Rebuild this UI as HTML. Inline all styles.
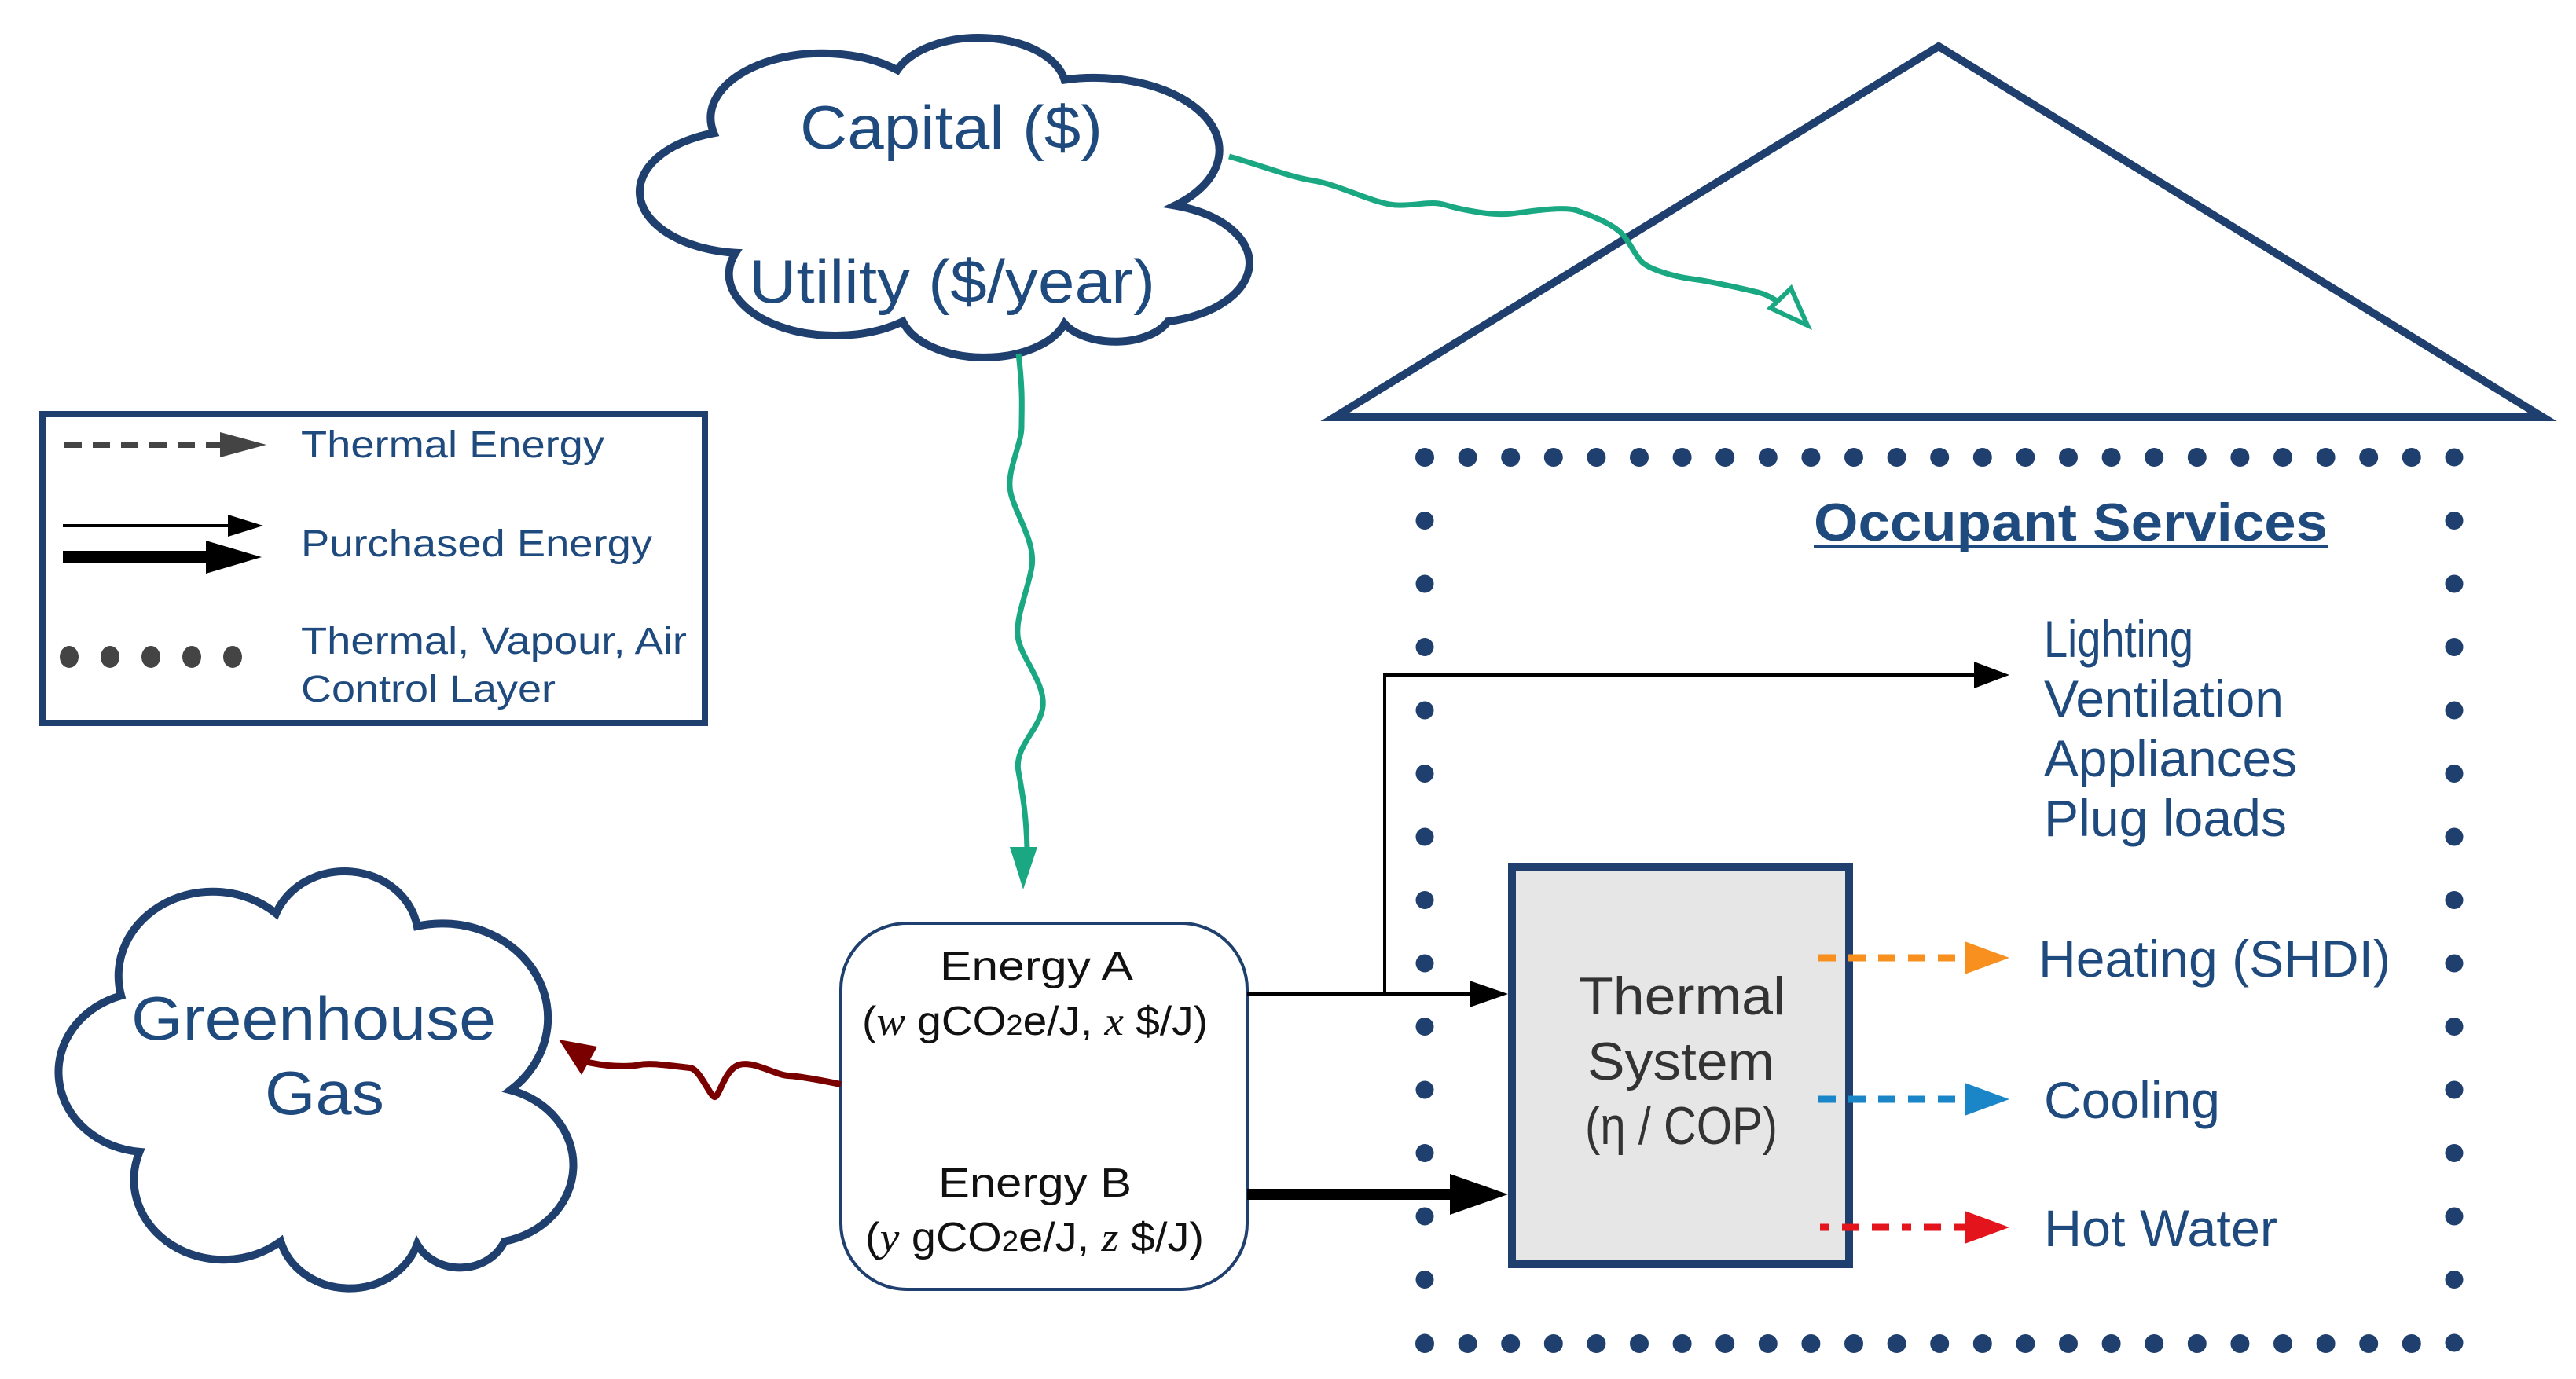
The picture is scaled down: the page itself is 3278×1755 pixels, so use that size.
<!DOCTYPE html>
<html><head><meta charset="utf-8"><style>
html,body{margin:0;padding:0;background:#fff;}
svg{display:block;font-family:"Liberation Sans",sans-serif;}
</style></head><body>
<svg width="3278" height="1755" viewBox="0 0 3278 1755" xmlns="http://www.w3.org/2000/svg">
<!-- Capital cloud -->
<g transform="translate(830,45) scale(6.93,4.01)">
<path d="M45,11 A16,16 0 0 1 75.7,14.1 A23,23 0 0 1 96,54 A19,19 0 0 1 94.7,90.8 A10.5,10.5 0 0 1 75.7,91.5 A15.5,15.5 0 0 1 46,90.8 A19.5,19.5 0 0 1 15.3,69 A19.5,19.5 0 0 1 11.3,31 A20.5,20.5 0 0 1 45,11 Z" fill="#fff" stroke="#1f3f6e" stroke-width="10" vector-effect="non-scaling-stroke"/>
</g>
<text x="1018" y="189" font-size="78" fill="#1f4a7e" textLength="385" lengthAdjust="spacingAndGlyphs">Capital ($)</text>
<text x="953" y="385" font-size="78" fill="#1f4a7e" textLength="517" lengthAdjust="spacingAndGlyphs">Utility ($/year)</text>
<!-- Greenhouse cloud -->
<g transform="translate(88,1105) scale(5.85,5.23)">
<path d="M45,11 A16,16 0 0 1 75.7,14.1 A23,23 0 0 1 96,54 A19,19 0 0 1 94.7,90.8 A10.5,10.5 0 0 1 75.7,91.5 A15.5,15.5 0 0 1 46,90.8 A19.5,19.5 0 0 1 15.3,69 A19.5,19.5 0 0 1 11.3,31 A20.5,20.5 0 0 1 45,11 Z" fill="#fff" stroke="#1f3f6e" stroke-width="10" vector-effect="non-scaling-stroke"/>
</g>
<text x="167" y="1323" font-size="78" fill="#1f4a7e" textLength="464" lengthAdjust="spacingAndGlyphs">Greenhouse</text>
<text x="337" y="1418" font-size="78" fill="#1f4a7e" textLength="152" lengthAdjust="spacingAndGlyphs">Gas</text>
<!-- House roof -->
<polygon points="2467,59 1698,531 3236,531" fill="none" stroke="#1f3f6e" stroke-width="10"/>
<!-- Dotted control layer -->
<line x1="1813" y1="582" x2="3123" y2="582" stroke="#1f3f6e" stroke-width="24" stroke-linecap="round" stroke-dasharray="0 54.6"/>
<line x1="1813" y1="1710" x2="3123" y2="1710" stroke="#1f3f6e" stroke-width="24" stroke-linecap="round" stroke-dasharray="0 54.6"/>
<line x1="1813" y1="582" x2="1813" y2="1710" stroke="#1f3f6e" stroke-width="23" stroke-linecap="round" stroke-dasharray="0 80.5"/>
<line x1="3123" y1="582" x2="3123" y2="1710" stroke="#1f3f6e" stroke-width="23" stroke-linecap="round" stroke-dasharray="0 80.5"/>
<text x="2308" y="688" font-size="68" font-weight="bold" fill="#1f4a7e" textLength="654" lengthAdjust="spacingAndGlyphs">Occupant Services</text>
<rect x="2308" y="693" width="654" height="4" fill="#1f4a7e"/>
<g font-size="66" fill="#1f4a7e">
<text x="2601" y="836" textLength="190" lengthAdjust="spacingAndGlyphs">Lighting</text>
<text x="2601" y="912" textLength="305" lengthAdjust="spacingAndGlyphs">Ventilation</text>
<text x="2601" y="988" textLength="322" lengthAdjust="spacingAndGlyphs">Appliances</text>
<text x="2601" y="1064" textLength="309" lengthAdjust="spacingAndGlyphs">Plug loads</text>
<text x="2594" y="1243" textLength="448" lengthAdjust="spacingAndGlyphs">Heating (SHDI)</text>
<text x="2601" y="1423" textLength="224" lengthAdjust="spacingAndGlyphs">Cooling</text>
<text x="2601" y="1586" textLength="297" lengthAdjust="spacingAndGlyphs">Hot Water</text>
</g>
<!-- Legend -->
<rect x="54" y="527" width="843" height="393" fill="#fff" stroke="#1f3f6e" stroke-width="8"/>
<line x1="82" y1="566" x2="290" y2="566" stroke="#444" stroke-width="8" stroke-dasharray="22 14"/>
<polygon points="280,550 339,566 280,582" fill="#444"/>
<g font-size="48" fill="#1f4a7e">
<text x="383" y="582" textLength="386" lengthAdjust="spacingAndGlyphs">Thermal Energy</text>
<text x="383" y="708" textLength="447" lengthAdjust="spacingAndGlyphs">Purchased Energy</text>
<text x="383" y="832" textLength="491" lengthAdjust="spacingAndGlyphs">Thermal, Vapour, Air</text>
<text x="383" y="893" textLength="324" lengthAdjust="spacingAndGlyphs">Control Layer</text>
</g>
<line x1="80" y1="669" x2="300" y2="669" stroke="#000" stroke-width="4"/>
<polygon points="290,655 335,669 290,683" fill="#000"/>
<line x1="80" y1="709" x2="275" y2="709" stroke="#000" stroke-width="16"/>
<polygon points="262,688 333,709 262,730" fill="#000"/>
<g fill="#444"><ellipse cx="88" cy="836" rx="12" ry="14"/><ellipse cx="140" cy="836" rx="12" ry="14"/><ellipse cx="192" cy="836" rx="12" ry="14"/><ellipse cx="244" cy="836" rx="12" ry="14"/><ellipse cx="296" cy="836" rx="12" ry="14"/></g>
<!-- Energy box -->
<rect x="1070" y="1175" width="517" height="466" rx="84" fill="#fff" stroke="#1f3f6e" stroke-width="4"/>
<g font-size="52" fill="#111">
<text x="1196" y="1247" textLength="246" lengthAdjust="spacingAndGlyphs">Energy A</text>
<text x="1097" y="1317" textLength="440" lengthAdjust="spacingAndGlyphs">(<tspan font-family="Liberation Serif" font-style="italic">w</tspan> gCO<tspan font-size="36">2</tspan>e/J, <tspan font-family="Liberation Serif" font-style="italic">x</tspan> $/J)</text>
<text x="1194" y="1523" textLength="246" lengthAdjust="spacingAndGlyphs">Energy B</text>
<text x="1101" y="1592" textLength="431" lengthAdjust="spacingAndGlyphs">(<tspan font-family="Liberation Serif" font-style="italic">y</tspan> gCO<tspan font-size="36">2</tspan>e/J, <tspan font-family="Liberation Serif" font-style="italic">z</tspan> $/J)</text>
</g>
<!-- Thermal system -->
<rect x="1924" y="1103" width="429" height="506" fill="#e6e6e6" stroke="#1f3f6e" stroke-width="10"/>
<g font-size="68" fill="#333">
<text x="2009" y="1291" textLength="263" lengthAdjust="spacingAndGlyphs">Thermal</text>
<text x="2020" y="1374" textLength="238" lengthAdjust="spacingAndGlyphs">System</text>
<text x="2017" y="1456" textLength="245" lengthAdjust="spacingAndGlyphs">(η / COP)</text>
</g>
<!-- Purchased arrows -->
<polyline points="1587,1265 1905,1265" fill="none" stroke="#000" stroke-width="4"/>
<polygon points="1870,1248 1919,1265 1870,1282" fill="#000"/>
<polyline points="1762,1265 1762,859 2525,859" fill="none" stroke="#000" stroke-width="4"/>
<polygon points="2512,842 2557,859 2512,876" fill="#000"/>
<line x1="1587" y1="1520" x2="1870" y2="1520" stroke="#000" stroke-width="14"/>
<polygon points="1845,1494 1919,1520 1845,1546" fill="#000"/>
<!-- Thermal dashed arrows -->
<line x1="2314" y1="1219" x2="2510" y2="1219" stroke="#f7901e" stroke-width="9" stroke-dasharray="22 16"/>
<polygon points="2500,1198 2557,1219 2500,1240" fill="#f7901e"/>
<line x1="2314" y1="1399" x2="2510" y2="1399" stroke="#1a86c8" stroke-width="9" stroke-dasharray="22 16"/>
<polygon points="2500,1378 2557,1399 2500,1420" fill="#1a86c8"/>
<line x1="2316" y1="1562" x2="2510" y2="1562" stroke="#e3141c" stroke-width="9" stroke-dasharray="12 16 22 16 22 16"/>
<polygon points="2500,1541 2557,1562 2500,1583" fill="#e3141c"/>
<!-- Green wavy arrows -->
<path d="M1296,450 C1302,500 1300,520 1300,543 S1280,600 1286,627 S1318,690 1313,721 S1290,790 1296,815 S1330,870 1327,899 S1290,950 1296,982 S1306,1040 1307,1080" fill="none" stroke="#1aa882" stroke-width="7"/>
<polygon points="1285,1078 1320,1078 1302,1132" fill="#1aa882"/>
<path d="M1564,199 C1610,212 1640,225 1672,230 S1750,260 1777,261 S1820,255 1840,261 S1900,275 1923,272 S1990,262 2007,268 S2045,282 2059,293 S2080,325 2090,334 S2130,352 2153,355 S2220,368 2237,372 S2268,388 2275,394" fill="none" stroke="#1aa882" stroke-width="7"/>
<polygon points="2300,414 2253,392 2279,367" fill="#fff" stroke="#1aa882" stroke-width="6"/>
<!-- Red wavy arrow -->
<path d="M1070,1380 C1045,1375 1020,1370 1003,1369 S960,1350 941,1355 S915,1398 909,1396 S890,1360 878,1359 S830,1352 815,1355 S770,1358 740,1350" fill="none" stroke="#7a0000" stroke-width="8"/>
<polygon points="711,1323 760,1332 740,1368" fill="#7a0000"/>
</svg>
</body></html>
